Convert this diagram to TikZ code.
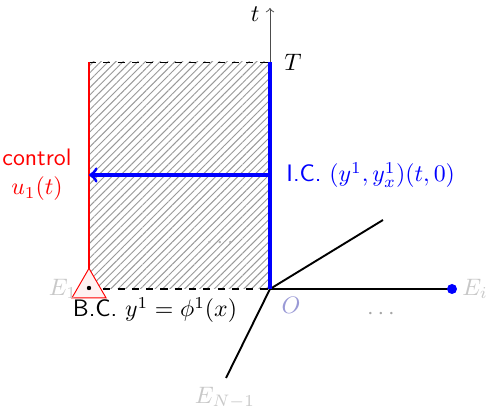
\documentclass[tikz,border=0pt]{standalone}
\usepackage{amsmath,amssymb}
\usetikzlibrary{patterns,patterns.meta,shapes.geometric}
\definecolor{ctrlred}{HTML}{FF0000}
\definecolor{icblue}{HTML}{0000FF}
\definecolor{faint}{HTML}{C8C8C8}
\definecolor{lav}{HTML}{9A9AD6}
\begin{document}
\begin{tikzpicture}[x=0.42pt,y=-0.42pt,every node/.style={font=\fontsize{10}{12}\selectfont}]
\useasboundingbox (0,0) rectangle (486,407);
% corners of the strip
\coordinate (O) at (270,289);
\coordinate (T) at (270,62);
\coordinate (A) at (89,62);
\coordinate (B) at (89,289);
\coordinate (ttip) at (270,8);
\coordinate (Ei) at (452,289);
\coordinate (Eup) at (383,220);
\coordinate (Elow) at (226,378);
\coordinate (icpt) at (270,175);
\coordinate (ctrlpt) at (89,175);
\fill[pattern={Lines[angle=45,distance=2.2pt,line width=.4pt]},pattern color=gray!80] (B) rectangle (T);
\draw[dashed,line width=.4pt] (A) -- (T);
\draw[dashed,line width=.8pt] (B) -- (O);
\draw[->,line width=.4pt,black!70] (T) -- (ttip);
\draw[line width=.8pt] (O) -- (Ei);
\draw[line width=.8pt] (O) -- (Eup);
\draw[line width=.8pt] (O) -- (Elow);
\draw[ctrlred,line width=.8pt] (A) -- (B);
\draw[icblue,line width=1.3pt] (T) -- (O);
\draw[icblue,line width=1.3pt,->] (icpt) -- (ctrlpt);
\fill[icblue] (Ei) circle[radius=5];
\node[regular polygon,regular polygon sides=3,draw=ctrlred,fill=ctrlred!5,minimum size=16.5pt,inner sep=0pt] (bc) at (89,288) {};
\fill (bc.center) circle[radius=2.2];
\node[anchor=east] (tlab) at (268,14) {$t$};
\node[anchor=west] (Tlab) at (276,62) {$T$};
\node[text=ctrlred,align=center] (ctrl) at (37,175) {\textsf{control}\\$u_1(t)$};
\node[text=icblue,anchor=west] (ic) at (278,175) {\textsf{I.C.} $(y^1,y^1_x)(t,0)$};
\node (bclab) at (155,310) {\textsf{B.C.} $y^1=\phi^1(x)$};
\node[text=lav] (Olab) at (291,305) {$O$};
\node[text=faint,anchor=west] (Eilab) at (454,289) {$E_i$};
\node[text=faint] (E1lab) at (63,289) {$E_1$};
\node[text=faint] (ENlab) at (225,398) {$E_{N-1}$};
\node[text=gray!70] (dotsr) at (383,314) {$\cdots$};
\node[text=gray!60] (dotsm) at (222,243) {$\cdots$};
\end{tikzpicture}
\end{document}
